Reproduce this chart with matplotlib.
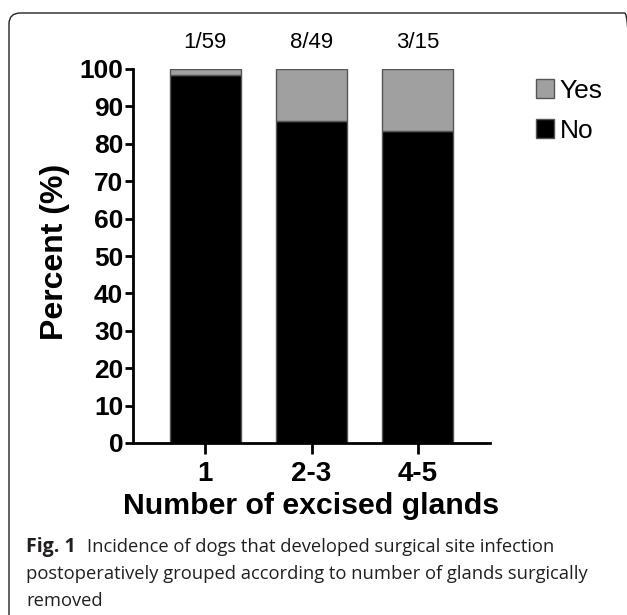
import matplotlib.pyplot as plt
from matplotlib.patches import FancyBboxPatch, Patch

# Data
groups = ["1", "2-3", "4-5"]
counts = ["1/59", "8/49", "3/15"]
no_pct = [98.3, 86.0, 83.3]
yes_pct = [100 - v for v in no_pct]

W, H = 627, 615
fig = plt.figure(figsize=(W / 100, H / 100), dpi=100)
plt.rcParams['font.family'] = ['Liberation Sans', 'DejaVu Sans']

# rounded frame around the figure panel (runs off the right and bottom edges)
frame = FancyBboxPatch((9 / W, -0.1), 1.0, (H - 13) / H + 0.1,
                       boxstyle="round,pad=0,rounding_size=0.018",
                       transform=fig.transFigure, fill=False,
                       edgecolor='#222222', linewidth=1.0)
fig.patches.append(frame)

ax = fig.add_axes([133 / W, 1 - 443 / H, (490 - 133) / W, (443 - 69) / H])

x = range(len(groups))
ax.bar(x, no_pct, width=0.67, color='black', edgecolor='#555555', linewidth=1.0)
ax.bar(x, yes_pct, width=0.67, bottom=no_pct, color='#a0a0a0',
       edgecolor='#555555', linewidth=1.0)

# counts above the bars
for i, c in enumerate(counts):
    ax.text(i, 107, c, ha='center', va='center', fontsize=16, clip_on=False)

ax.set_xlim(-0.68, 2.68)
ax.set_ylim(0, 100)
ax.set_yticks(range(0, 101, 10))
ax.set_xticks(list(x))
ax.set_xticklabels(groups, fontsize=20, fontweight='bold')
for lbl in ax.get_yticklabels():
    lbl.set_fontsize(19)
    lbl.set_fontweight('bold')
ax.tick_params(axis='y', length=6, width=2, pad=1)
ax.tick_params(axis='x', length=8, width=2, pad=5)

for side in ['top', 'right']:
    ax.spines[side].set_visible(False)
for side in ['left', 'bottom']:
    ax.spines[side].set_linewidth(2)

ax.set_ylabel("Percent (%)", fontsize=23, fontweight='bold')
ax.yaxis.set_label_coords((55 - 133) / (490 - 133), 0.51)
ax.set_xlabel("Number of excised glands", fontsize=21.8, fontweight='bold')
ax.xaxis.set_label_coords(0.5, -(506 - 443) / (443 - 69))
ax.xaxis.label.set_va('center')
ax.yaxis.label.set_va('center')

# legend, Yes listed first
handles = [Patch(facecolor='#a0a0a0', edgecolor='#555555', label='Yes'),
           Patch(facecolor='black', edgecolor='#555555', label='No')]
fig.legend(handles=handles, loc='upper left', bbox_to_anchor=(512 / W, 1 - 55 / H),
           frameon=False, fontsize=19, handlelength=0.7, handleheight=0.7,
           handletextpad=0.2, labelspacing=0.6)

# caption
cap = ['Open Sans', 'DejaVu Sans']
col = '#231f20'
fig.text(26 / W, 1 - 552 / H, "Fig. 1", fontsize=14, fontweight='bold',
         family=cap, va='baseline', color=col)
fig.text(87 / W, 1 - 552 / H, "Incidence of dogs that developed surgical site infection",
         fontsize=13.2, family=cap, va='baseline', color=col)
fig.text(26 / W, 1 - 579 / H,
         "postoperatively grouped according to number of glands surgically",
         fontsize=13.2, family=cap, va='baseline', color=col)
fig.text(26 / W, 1 - 606 / H, "removed", fontsize=13.2, family=cap,
         va='baseline', color=col)

fig.savefig("out.png", dpi=100)
